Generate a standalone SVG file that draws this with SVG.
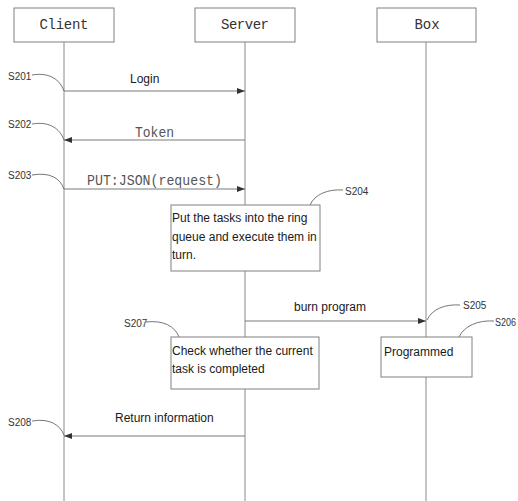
<svg xmlns="http://www.w3.org/2000/svg" width="518" height="501" viewBox="0 0 518 501">
<style>
.bg{fill:#ffffff}
.box{fill:#ffffff;stroke:#808080;stroke-width:1}
.life{stroke:#8a8a8a;stroke-width:1;fill:none}
.msg{stroke:#7a7a7a;stroke-width:1;fill:none}
.lead{stroke:#666;stroke-width:0.9;fill:none}
.hdr{font-family:"Liberation Mono","DejaVu Sans Mono",monospace;font-size:14px;fill:#333;text-anchor:middle;dominant-baseline:central}
.mono{font-family:"Liberation Mono","DejaVu Sans Mono",monospace;font-size:15px;fill:#555;dominant-baseline:central}
.sans{font-family:"Liberation Sans",Arial,sans-serif;font-size:12px;fill:#1a1a1a;dominant-baseline:central}
.lbl{font-family:"Liberation Sans",Arial,sans-serif;font-size:10px;fill:#333;dominant-baseline:central}
</style>
<defs>
<marker id="ah" markerUnits="userSpaceOnUse" markerWidth="9" markerHeight="7" refX="8" refY="3" orient="auto">
<path d="M0,0 L8,3 L0,6 z" fill="#333"/>
</marker>
</defs>
<rect class="bg" x="0" y="0" width="518" height="501"/>
<g id="lifelines">
<line class="life" x1="64" y1="42" x2="64" y2="501"/>
<line class="life" x1="245" y1="42" x2="245" y2="501"/>
<line class="life" x1="426" y1="42" x2="426" y2="501"/>
</g>
<g id="client"><rect class="box" x="14" y="8" width="100" height="34"/><text class="hdr" x="64" y="25" textLength="49">Client</text></g>
<g id="server"><rect class="box" x="195" y="8" width="100" height="34"/><text class="hdr" x="245" y="25" textLength="48">Server</text></g>
<g id="boxnode"><rect class="box" x="377" y="8" width="99" height="34"/><text class="hdr" x="427" y="25">Box</text></g>
<g id="connectors">
<line class="msg" x1="64" y1="91" x2="245" y2="91" marker-end="url(#ah)"/>
<line class="msg" x1="245" y1="140" x2="64" y2="140" marker-end="url(#ah)"/>
<line class="msg" x1="64" y1="189" x2="245" y2="189" marker-end="url(#ah)"/>
<line class="msg" x1="245" y1="321" x2="426" y2="321" marker-end="url(#ah)"/>
<line class="msg" x1="245" y1="436" x2="64" y2="436" marker-end="url(#ah)"/>
<path class="lead" d="M32,75 C50,72 60,80 64,91"/>
<path class="lead" d="M32,124 C50,121 60,129 64,140"/>
<path class="lead" d="M32,175 C50,172 60,178 64,189"/>
<path class="lead" d="M310,205 C315,194 328,189 343,190"/>
<path class="lead" d="M427,320 C432,309 445,304 460,305"/>
<path class="lead" d="M459,337 C464,326 478,320 494,321"/>
<path class="lead" d="M146,322 C163,320 175,326 179,337"/>
<path class="lead" d="M32,421 C50,418 60,425 64,435"/>
</g>
<g id="msg-labels">
<text class="sans" x="130" y="79">Login</text>
<text class="mono" x="135" y="133" textLength="39" lengthAdjust="spacingAndGlyphs">Token</text>
<text class="mono" x="87" y="181" textLength="135" lengthAdjust="spacingAndGlyphs">PUT:JSON(request)</text>
<text class="sans" x="294" y="307">burn program</text>
<text class="sans" x="115" y="418">Return information</text>
</g>
<g id="s204"><rect class="box" x="171" y="205" width="149" height="66"/>
<text class="sans" x="172" y="218">Put the tasks into the ring</text>
<text class="sans" x="172" y="237">queue and execute them in</text>
<text class="sans" x="172" y="255">turn.</text></g>
<g id="s207"><rect class="box" x="171" y="337" width="148" height="52"/>
<text class="sans" x="172" y="351">Check whether the current</text>
<text class="sans" x="172" y="369">task is completed</text></g>
<g id="s206"><rect class="box" x="381" y="337" width="91" height="40"/>
<text class="sans" x="384" y="352">Programmed</text></g>
<g id="step-labels">
<text class="lbl" x="8" y="76">S201</text>
<text class="lbl" x="8" y="124">S202</text>
<text class="lbl" x="8" y="175">S203</text>
<text class="lbl" x="345" y="191">S204</text>
<text class="lbl" x="463" y="305">S205</text>
<text class="lbl" x="495" y="322" textLength="21" lengthAdjust="spacingAndGlyphs">S206</text>
<text class="lbl" x="124" y="323">S207</text>
<text class="lbl" x="8" y="422">S208</text>
</g>
</svg>
